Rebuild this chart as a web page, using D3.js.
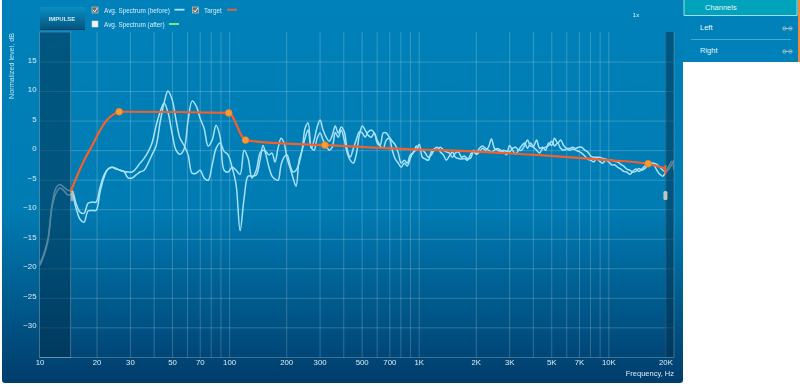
<!DOCTYPE html>
<html>
<head>
<meta charset="utf-8">
<script src="https://cdn.jsdelivr.net/npm/d3@7"></script>
<style>
html, body { margin: 0; padding: 0; background: #fff; overflow: hidden; }
svg { display: block; font-family: "Liberation Sans", Arial, sans-serif; filter: blur(0.5px); }
</style>
</head>
<body>
<svg id="chart" width="800" height="387"></svg>
<script>
// measurement grid, Hz
const freqs = [10.06,10.56,11.09,11.64,12.22,12.83,13.47,14.14,14.84,15.58,16.36,17.17,18.03,18.93,19.87,20.86,21.9,22.99,24.13,25.33,
    26.6,27.9,29.3,30.8,32.3,33.9,35.6,37.4,39.2,41.2,43.2,45.4,47.6,50,52.5,55.1,57.9,60.8,63.8,67,
    70.3,73.8,77.5,81.4,85.4,89.7,94.1,98.8,103.7,108.9,114.3,120,126,132,139,145.5,
    150.9,156.5,162.3,168.4,174.6,181.1,187.9,194.8,202.1,209.6,217.4,225.5,233.9,242.6,251.6,261,270.7,280.8,291.2,302,
    313,325,337,350,363,376,390,405,420,435,452,468,486,504,522,542,562,583,604,627,
    650,674,699,725,752,780,809,839,870,903,936,971,1007,1045,1083,1124,1165,1209,1254,1300,
    1349,1399,1451,1505,1561,1619,1679,1742,1806,1873,1943,2015,2090,2168,2249,2332,2419,2509,2602,2699,
    2800,2904,3012,3124,3240,3361,3486,3615,3750,3889,4034,4184,4340,4501,4669,4842,5022,5209,5403,5604,
    5812,6029,6253,6485,6727,6977,7237,7506,7785,8075,8375,8687,9010,9345,9693,10050,10420,10810,11210,11630,
    12060,12510,12980,13460,13960,14480,15020,15580,16160,16760,17380,18030,18700,19400,20120,20870,21640,22200];

// two averaged spectra, dB
const spectrumA = [-19.5,-17.8,-15.3,-9.7,-7.3,-6.4,-6.9,-7.6,-7.5,-9.8,-11.7,-12.2,-10.3,-10.2,-10.2,-7.1,-4.6,-3.2,-2.9,-3.2,
    -3.4,-3.6,-4.7,-4.7,-4.2,-3.7,-3.4,-2.2,-0.8,0.7,4.6,8,10,8.6,5.1,2,0.8,-0.8,-3.9,-3.9,
    -3.4,-4.7,-5.1,-2.5,0.3,1.2,-0.2,-0.8,-2.9,-5.9,-13.6,-8.1,-4.4,-4.4,-4.2,-1.7,
    0.8,-0.8,-2.9,-4.4,-4.9,-5.1,-2.5,-1.2,-0.8,-2.5,-3.7,-3.4,-2.2,0,2,3.4,0.5,0,2,2.9,
    1.7,0.8,0,0.5,3.0,2.2,3.4,1.7,-0.5,-1.7,-2.2,-0.8,2.5,4.1,3.4,2.5,2.2,2.9,1.2,0.7,
    0.3,1.7,2,0,-1.5,-2.2,-2.9,-2.2,-2.7,-1.4,-0.3,0,1,-1.2,-1.5,-1.7,-0.3,0.2,0.5,-0.3,
    -0.8,-1.7,-1,-0.3,-1.2,-1.4,-1.5,-1.4,-1.7,-0.8,0,-0.5,0.3,0.7,0.3,0,-0.3,0,0.3,0,
    -0.3,-0.8,0.8,0,-0.7,0,0.7,1.2,0.3,1.2,0.5,0,-0.5,0.3,0.5,0.8,1.5,0.7,1.2,0.3,
    0,0.2,0,0.2,0,-0.2,-0.5,-1,-1.5,-1.7,-2,-1.4,-1.9,-2.2,-1.7,-2,-2.5,-2.5,-2.9,-3.2,
    -3.6,-3.7,-4.1,-3.6,-3.2,-3.6,-3.2,-2.7,-2.4,-2.2,-2.5,-3.4,-4.1,-4.4,-3.6,-2.7,-1.9,-3.4];
const spectrumB = [-19.2,-17.5,-14.9,-9.3,-6.4,-5.8,-6.3,-6.8,-6.9,-9,-10.5,-10.7,-9,-8.8,-8.8,-6.3,-4.2,-3.2,-2.9,-3.1,
    -3.4,-3.6,-3.7,-3.7,-3.1,-2.2,-1.4,-0.3,1.2,4.1,6.4,8,6.4,2.9,0,-0.7,0.2,5.1,8.3,7.5,
    5.4,3.7,0.7,1.7,4.2,2.2,-3.4,-3.7,-2.9,-3.4,-4.1,0,-1.4,-4.7,-3.4,-0.5,
    0,-0.3,-0.8,-0.5,-2,0.3,2,1.2,-1.4,-3,-4.7,-6.1,-1.7,0,3.7,4.6,0.3,1.7,3.9,5.1,
    3.4,2.2,1.5,2.5,4.1,2.9,3.9,3.1,0,-1.2,0.3,1.7,3.1,2.9,2.2,3.1,3.4,2.9,1.7,0.9,
    2.9,2.9,2.2,1.5,0.9,-0.5,-2.2,-1.7,-2.2,-0.8,-0.5,0.7,0,0,-0.5,-1.2,-0.8,0,0,0.5,
    0,-0.3,-0.5,-1.2,-0.5,-0.3,-1.2,-1.0,-1.4,-1.4,-0.3,-0.7,-0.3,0.3,0,0.5,1.9,0.3,0,-0.2,
    0,-0.2,-0.3,0.3,0.5,0,0,0.8,1.7,0.7,0.7,1.7,0.3,0.5,0,1.2,0.8,2,1.2,1.7,0.8,
    0.3,0.3,0.5,0.3,0.5,0.5,0,-0.3,-1,-1.2,-1.2,-1.2,-1.4,-1.5,-1.7,-1.7,-1.9,-2,-2.4,-2.7,
    -3.2,-3.4,-3.7,-3.6,-3.1,-3.4,-3.1,-2.5,-2.2,-2.2,-2.4,-2.9,-3.4,-3.7,-3.2,-2.4,-1.7,-3.1];

// target curve
const targetFreqs = [14.6,17.2,18.9,20.9,23,24.7,26.3,99.5,122,201,320,1000,1300,4340,10000,16200,20000];
const targetLevels = [-7,-1.7,0.7,3.4,5.3,6.1,6.5,6.3,1.7,1.1,0.85,0.1,0,-0.85,-1.7,-2.3,-3.1];
const handleFreqs = [26.3,99.5,122,320,16200];
const handleLevels = [6.5,6.3,1.7,0.85,-2.3];

const xTickValues = [10,20,30,50,70,100,200,300,500,700,1000,2000,3000,5000,7000,10000,20000];
const xTickLabels = ["10","20","30","50","70","100","200","300","500","700","1K","2K","3K","5K","7K","10K","20K"];
const xGridValues = [20,30,40,50,60,70,80,90,100,200,300,400,500,600,700,800,900,1000,2000,3000,4000,5000,6000,7000,8000,9000,10000,20000];
const yTickValues = [15,10,5,0,-5,-10,-15,-20,-25,-30];

const bandLow = 14.6, bandHigh = 20000;
const plotLeft = 39.5, plotRight = 674, plotTop = 32, plotBottom = 357.5;

const svg = d3.select("#chart");
const defs = svg.append("defs");

const grad = defs.append("linearGradient").attr("id", "panelGrad").attr("x1", 0).attr("y1", 0).attr("x2", 0).attr("y2", 1);
grad.append("stop").attr("offset", "0%").attr("stop-color", "#0081b9");
grad.append("stop").attr("offset", "55%").attr("stop-color", "#007cb3");
grad.append("stop").attr("offset", "100%").attr("stop-color", "#003d6c");

const btnGrad = defs.append("linearGradient").attr("id", "btnGrad").attr("x1", 0).attr("y1", 0).attr("x2", 0).attr("y2", 1);
btnGrad.append("stop").attr("offset", "0%").attr("stop-color", "#0a8fc4");
btnGrad.append("stop").attr("offset", "100%").attr("stop-color", "#04567f");

defs.append("clipPath").attr("id", "plotClip").append("rect")
    .attr("x", plotLeft).attr("y", plotTop).attr("width", plotRight - plotLeft).attr("height", plotBottom - plotTop);

const x = d3.scaleLog().domain([10, 22200]).range([plotLeft, plotRight]);
const y = d3.scaleLinear().domain([20, -35.1]).range([plotTop, plotBottom]);

// right hand channel list
svg.append("rect").attr("x", 680).attr("y", 0).attr("width", 118).attr("height", 62).attr("fill", "#0081b9");
svg.append("rect").attr("x", 798).attr("y", 0).attr("width", 2).attr("height", 62).attr("fill", "#f08a3c");
svg.append("rect").attr("x", 684).attr("y", 0).attr("width", 114).attr("height", 15.5).attr("fill", "#01a2bb");
svg.append("path").attr("d", "M684 0V15.5H797V0").attr("fill", "none").attr("stroke", "#cdeef2").attr("stroke-width", 0.8);
svg.append("text").attr("x", 705).attr("y", 10).attr("font-size", 7.5).attr("fill", "#e4f6f8").text("Channels");
svg.append("text").attr("x", 700).attr("y", 29.5).attr("font-size", 7.5).attr("fill", "#eef8fc").text("Left");
svg.append("text").attr("x", 700).attr("y", 52.5).attr("font-size", 7.5).attr("fill", "#e3f3f9").text("Right");
svg.append("line").attr("x1", 691).attr("x2", 791).attr("y1", 39.5).attr("y2", 39.5).attr("stroke", "#5cb0d3").attr("stroke-width", 0.8);
[28.5, 51.5].forEach(cy => {
    svg.append("path").attr("d", `M783 ${cy}h9`).attr("stroke", "#b0c4cc").attr("stroke-width", 0.8);
    svg.append("circle").attr("cx", 784.5).attr("cy", cy).attr("r", 1.7).attr("fill", "none").attr("stroke", "#b0c4cc").attr("stroke-width", 0.8);
    svg.append("circle").attr("cx", 790.5).attr("cy", cy).attr("r", 1.7).attr("fill", "none").attr("stroke", "#b0c4cc").attr("stroke-width", 0.8);
});

// main panel
svg.append("rect").attr("x", 2).attr("y", -4).attr("width", 681).attr("height", 387).attr("rx", 3).attr("fill", "url(#panelGrad)");

// grid through axes
svg.append("g").attr("class", "grid")
    .attr("transform", `translate(0,${plotBottom})`)
    .call(d3.axisBottom(x).tickValues(xGridValues).tickSize(-(plotBottom - plotTop)).tickFormat(""));
svg.append("g").attr("class", "grid")
    .attr("transform", `translate(${plotLeft},0)`)
    .call(d3.axisLeft(y).tickValues(yTickValues).tickSize(-(plotRight - plotLeft)).tickFormat(""));
svg.selectAll(".grid .domain").remove();
svg.selectAll(".grid line").attr("stroke", "#ffffff").attr("stroke-opacity", 0.2).attr("stroke-width", 1);

// spectra
const spectrumLine = d3.line()
    .x((d, i) => x(freqs[i]))
    .y(d => y(d))
    .curve(d3.curveCatmullRom.alpha(0.5));

const plot = svg.append("g").attr("clip-path", "url(#plotClip)");
[spectrumA, spectrumB].forEach(series => {
    plot.append("path")
        .attr("d", spectrumLine(series))
        .attr("fill", "none")
        .attr("stroke", "#a8e2f8")
        .attr("stroke-width", 1.5);
});

// out of range bands sit over the curves
plot.append("rect").attr("x", plotLeft).attr("y", plotTop).attr("width", x(bandLow) - plotLeft).attr("height", plotBottom - plotTop)
    .attr("fill", "#002c48").attr("fill-opacity", 0.5);
plot.append("rect").attr("x", x(bandHigh)).attr("y", plotTop).attr("width", plotRight - x(bandHigh)).attr("height", plotBottom - plotTop)
    .attr("fill", "#002c48").attr("fill-opacity", 0.5);
svg.append("rect").attr("x", plotLeft).attr("y", plotTop).attr("width", x(bandLow) - plotLeft).attr("height", plotBottom - plotTop)
    .attr("fill", "none").attr("stroke", "#8aa0ab").attr("stroke-opacity", 0.6).attr("stroke-width", 0.8);
svg.append("line").attr("x1", plotRight).attr("x2", plotRight).attr("y1", plotTop).attr("y2", plotBottom)
    .attr("stroke", "#8aa0ab").attr("stroke-opacity", 0.6).attr("stroke-width", 0.8);
svg.append("line").attr("x1", plotLeft).attr("x2", plotRight).attr("y1", plotBottom).attr("y2", plotBottom)
    .attr("stroke", "#ffffff").attr("stroke-opacity", 0.3).attr("stroke-width", 0.8);

// target
const targetLine = d3.line()
    .x((d, i) => x(targetFreqs[i]))
    .y(d => y(d))
    .curve(d3.curveMonotoneX);
svg.append("path")
    .attr("d", targetLine(targetLevels))
    .attr("fill", "none")
    .attr("stroke", "#f4602a")
    .attr("stroke-width", 2.2);

svg.selectAll(".handle")
    .data(handleLevels)
    .enter().append("circle")
    .attr("class", "handle")
    .attr("cx", (d, i) => x(handleFreqs[i]))
    .attr("cy", d => y(d))
    .attr("r", 3.4)
    .attr("fill", "#fb9c30")
    .attr("stroke", "#ee7a2a")
    .attr("stroke-width", 0.7);

// band limit grips
svg.append("rect").attr("x", x(bandLow)).attr("y", y(-6.9)).attr("width", 3).attr("height", 10)
    .attr("fill", "#c4c0b8").attr("fill-opacity", 0.8);
svg.append("rect").attr("x", x(bandHigh) - 2).attr("y", y(-6.9)).attr("width", 4).attr("height", 9).attr("rx", 1.5)
    .attr("fill", "#c4c4c4");
svg.append("line").attr("x1", x(bandHigh)).attr("x2", x(bandHigh)).attr("y1", y(-2.5)).attr("y2", y(-4.1))
    .attr("stroke", "#f4602a").attr("stroke-width", 2);

// tick labels
svg.append("g").attr("class", "axis")
    .attr("transform", `translate(0,${plotBottom})`)
    .call(d3.axisBottom(x).tickValues(xTickValues).tickSize(0).tickPadding(2)
        .tickFormat(d => xTickLabels[xTickValues.indexOf(d)]));
svg.append("g").attr("class", "axis")
    .attr("transform", `translate(${plotLeft},-2)`)
    .call(d3.axisLeft(y).tickValues(yTickValues).tickSize(0).tickPadding(3));
svg.selectAll(".axis .domain").remove();
svg.selectAll(".axis text")
    .attr("font-family", "'Liberation Sans', sans-serif")
    .attr("font-size", 7.8)
    .attr("fill", "#dcecf4");

svg.append("text").attr("x", 674).attr("y", 376).attr("text-anchor", "end")
    .attr("font-size", 7.5).attr("fill", "#dcecf4").text("Frequency, Hz");
svg.append("text").attr("transform", "translate(14,66) rotate(-90)").attr("text-anchor", "middle")
    .attr("font-size", 7.2).attr("fill", "#c0e2f0").text("Normalized level, dB");

// top controls
svg.append("rect").attr("x", 40).attr("y", 7).attr("width", 45).attr("height", 22).attr("fill", "url(#btnGrad)");
svg.append("line").attr("x1", 40).attr("x2", 85).attr("y1", 29.5).attr("y2", 29.5).attr("stroke", "#063f66");
svg.append("text").attr("x", 62).attr("y", 21).attr("text-anchor", "middle")
    .attr("font-size", 6).attr("font-weight", "bold").attr("fill", "#cfeaf5").text("IMPULSE");

function checkbox(cx, cy, checked) {
    svg.append("rect").attr("x", cx - 3).attr("y", cy - 3).attr("width", 6).attr("height", 6)
        .attr("fill", checked ? "#6d6a62" : "#f2f2f2").attr("stroke", "#d8d8d8").attr("stroke-width", 0.6);
    if (checked) {
        svg.append("path").attr("d", `M${cx - 2} ${cy}l1.7 2l2.6 -4`).attr("fill", "none").attr("stroke", "#fff").attr("stroke-width", 0.9);
    }
}
checkbox(95, 10, true);
checkbox(195.5, 10, true);
checkbox(95, 24, false);

svg.append("text").attr("x", 104).attr("y", 12.5).attr("font-size", 6.4).attr("fill", "#d5ecf5").text("Avg. Spectrum (before)");
svg.append("text").attr("x", 204).attr("y", 12.5).attr("font-size", 6.4).attr("fill", "#d5ecf5").text("Target");
svg.append("text").attr("x", 104).attr("y", 27).attr("font-size", 6.4).attr("fill", "#d5ecf5").text("Avg. Spectrum (after)");
svg.append("line").attr("x1", 174.5).attr("x2", 184.5).attr("y1", 9.7).attr("y2", 9.7).attr("stroke", "#a8e2f8").attr("stroke-width", 1.8);
svg.append("line").attr("x1", 227).attr("x2", 237).attr("y1", 9.7).attr("y2", 9.7).attr("stroke", "#f4602a").attr("stroke-width", 1.8);
svg.append("line").attr("x1", 169).attr("x2", 179).attr("y1", 24).attr("y2", 24).attr("stroke", "#8cf07a").attr("stroke-width", 1.8);
svg.append("text").attr("x", 636).attr("y", 17).attr("text-anchor", "middle").attr("font-size", 6).attr("fill", "#e3f3f9").text("1x");
</script>
</body>
</html>
